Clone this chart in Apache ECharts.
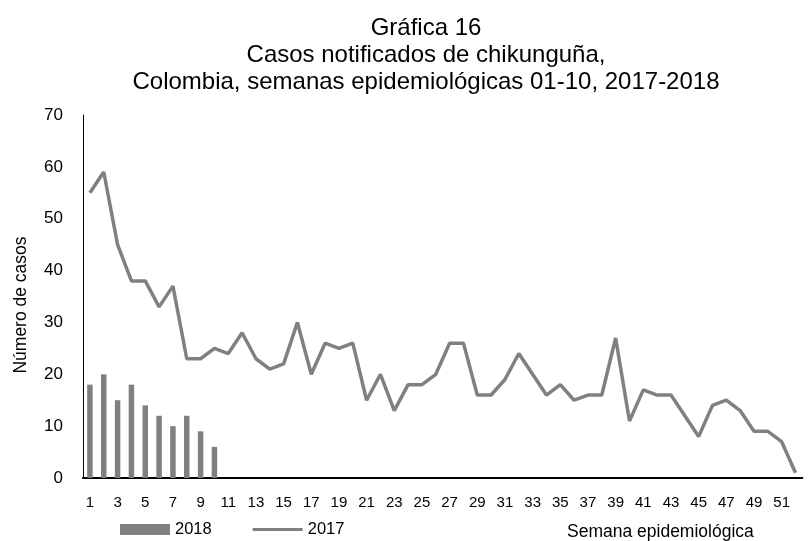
<!DOCTYPE html>
<html>
<head>
<meta charset="utf-8">
<script src="https://cdn.jsdelivr.net/npm/echarts@6/dist/echarts.min.js"></script>
<style>
  html, body { margin: 0; padding: 0; background: #fff; }
  #chart { width: 810px; height: 541px; }
</style>
</head>
<body>
<div id="chart"></div>
<script>
// semanas 1..52
const weeks = Array.from({ length: 52 }, (_, i) => String(i + 1))

const cases2017 = [
  55, 59, 45, 38, 38, 33, 37, 23, 23, 25,
  24, 28, 23, 21, 22, 30, 20, 26, 25, 26,
  15, 20, 13, 18, 18, 20, 26, 26, 16, 16,
  19, 24, 20, 16, 18, 15, 16, 16, 27, 11,
  17, 16, 16, 12, 8, 14, 15, 13, 9, 9,
  7, 1
]

const cases2018 = [18, 20, 15, 18, 14, 12, 10, 12, 9, 6]

const titleLines = [
  'Gráfica 16',
  'Casos notificados de chikunguña,',
  'Colombia, semanas epidemiológicas 01-10, 2017-2018'
]

const font = 'Liberation Sans, Arial, sans-serif'
const gray = '#808080'

const chart = echarts.init(document.getElementById('chart'))

const option = {
  backgroundColor: '#fff',
  animation: false,
  textStyle: { fontFamily: font },
  title: [
    {
      text: titleLines.join('\n'),
      left: 421,
      top: 10,
      textAlign: 'center',
      textStyle: {
        fontFamily: font,
        fontSize: 24,
        fontWeight: 'normal',
        color: '#000',
        lineHeight: 27
      }
    },
    {
      text: 'Semana epidemiológica',
      left: 562,
      top: 518,
      textStyle: {
        fontFamily: font,
        fontSize: 17.5,
        fontWeight: 'normal',
        color: '#000'
      }
    }
  ],
  graphic: [
    {
      type: 'text',
      x: 21,
      y: 305,
      rotation: Math.PI / 2,
      style: {
        text: 'Número de casos',
        fontFamily: font,
        fontSize: 17.5,
        fill: '#000',
        align: 'center',
        verticalAlign: 'middle'
      }
    }
  ],
  legend: {
    left: 120,
    top: 521,
    padding: 0,
    itemWidth: 50,
    itemHeight: 11,
    itemGap: 41,
    textStyle: { fontFamily: font, fontSize: 16.5, color: '#000' },
    data: [
      { name: '2018', icon: 'rect' },
      { name: '2017', icon: 'path://M0,4 L50,4 L50,7 L0,7 Z' }
    ]
  },
  grid: {
    left: 83,
    right: 7.6,
    top: 115,
    bottom: 63
  },
  xAxis: {
    type: 'category',
    data: weeks,
    boundaryGap: true,
    axisLine: { lineStyle: { color: '#000', width: 2 } },
    axisTick: { show: false },
    axisLabel: {
      interval: 1,
      color: '#000',
      fontSize: 15,
      fontFamily: font,
      margin: 17
    }
  },
  yAxis: {
    type: 'value',
    min: 0,
    max: 70,
    interval: 10,
    axisLine: { show: true, lineStyle: { color: '#000', width: 1 } },
    axisTick: { show: false },
    splitLine: { show: false },
    axisLabel: {
      color: '#000',
      fontSize: 17,
      fontFamily: font,
      margin: 20
    }
  },
  series: [
    {
      name: '2018',
      type: 'bar',
      data: cases2018,
      barWidth: 5.5,
      itemStyle: { color: gray }
    },
    {
      name: '2017',
      type: 'line',
      data: cases2017,
      symbol: 'none',
      lineStyle: { color: gray, width: 3.5 },
      itemStyle: { color: gray }
    }
  ]
}

chart.setOption(option)
</script>
</body>
</html>
